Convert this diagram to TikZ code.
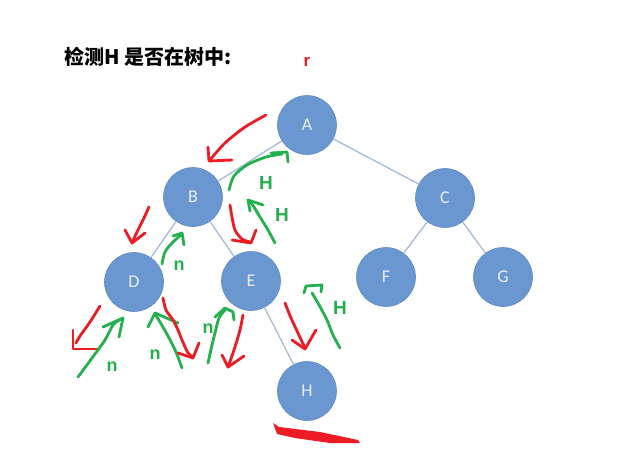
\documentclass[tikz,border=0pt]{standalone}
\usepackage{fontspec}
\setmainfont{Carlito}
\newfontfamily\cjk{Noto Sans CJK SC}
\newfontfamily\lblfont{Liberation Sans}
\definecolor{nodeblue}{HTML}{6A97CF}
\definecolor{nodeedge}{HTML}{5F8CC4}
\definecolor{nodetext}{HTML}{E8EFF8}
\definecolor{edgecol}{HTML}{A5BBD8}
\definecolor{penred}{HTML}{ED1C24}
\definecolor{pengreen}{HTML}{22B14C}
\tikzset{
  tnode/.style={circle, minimum size=59pt, inner sep=0pt, fill=nodeblue, draw=nodeedge, line width=0.6pt,
    text=nodetext, font=\fontsize{18}{18}\selectfont},
  tedge/.style={draw=edgecol, line width=1.3pt},
  redp/.style={draw=penred, line width=2.8pt, line cap=round, line join=round},
  greenp/.style={draw=pengreen, line width=2.8pt, line cap=round, line join=round},
  glabel/.style={text=pengreen, font=\lblfont\bfseries\fontsize{19}{19}\selectfont, inner sep=0pt},
  nlabel/.style={text=pengreen, font=\lblfont\bfseries\fontsize{18}{18}\selectfont, inner sep=0pt},
}
\begin{document}
\begin{tikzpicture}[x=1pt,y=-1pt]
\useasboundingbox[fill=white] (0,0) rectangle (627,466);
% title
\node[anchor=west, inner sep=0pt, font=\cjk\bfseries\fontsize{20}{20}\selectfont] (title) at (64,57) {检测H 是否在树中:};
\node[text=penred, font=\lblfont\bfseries\fontsize{17}{17}\selectfont, inner sep=0pt] (r) at (307,62) {r};
% tree
\node[tnode] (A) at (307,125) {A};
\node[tnode] (B) at (193,197) {B};
\node[tnode] (C) at (445,198) {C};
\node[tnode] (D) at (134,282) {D};
\node[tnode] (E) at (251,281) {E};
\node[tnode] (F) at (386,277) {F};
\node[tnode] (G) at (503,277) {G};
\node[tnode] (H) at (307,391) {H};
\draw[tedge] (A) -- (B);
\draw[tedge] (A) -- (C);
\draw[tedge] (B) -- (D);
\draw[tedge] (B) -- (E);
\draw[tedge] (C) -- (F);
\draw[tedge] (C) -- (G);
\draw[tedge] (E) -- (H);
% hand-drawn strokes
\draw[redp] plot[smooth] coordinates {(266,115) (245,127) (225,143) (210,160)};
\draw[redp] (208,147) -- (209,161) -- (232,160);
\draw[greenp] plot[smooth] coordinates {(229,190) (234,176) (247,165) (266,157) (282,154)};
\draw[greenp] (271,153) -- (287,152) -- (288,162);
\draw[redp] plot[smooth] coordinates {(230,205) (232,217) (235,230) (242,239) (250,242)};
\draw[redp] (232,240) -- (251,243) -- (256,230);
\draw[greenp] plot[smooth] coordinates {(275,243) (268,230) (260,217) (252,204) (248,200)};
\draw[greenp] (250,211) -- (248,200) -- (263,205);
\draw[redp] plot[smooth] coordinates {(149,207) (143,220) (137,232) (132,243)};
\draw[redp] (125,230) -- (132,243) -- (145,233);
\draw[greenp] plot[smooth] coordinates {(162,264) (165,252) (172,243) (182,234)};
\draw[greenp] (173,236) -- (182,233) -- (184,245);
\draw[redp] plot[smooth] coordinates {(100,306) (90,322) (80,336) (76,343)};
\draw[redp] (73,330) -- (73,349) -- (98,349);
\draw[greenp] plot[smooth] coordinates {(78,377) (92,358) (105,340) (113,325) (121,319)};
\draw[greenp] (103,327) -- (123,318) -- (119,337);
\draw[greenp] plot[smooth] coordinates {(182,368) (176,352) (168,336) (160,322) (155,314)};
\draw[greenp] (148,327) -- (155,313) -- (178,323);
\draw[redp] plot[smooth] coordinates {(163,298) (166,310) (173,320) (178,330) (182,340) (188,353) (193,357)};
\draw[redp] (178,353) -- (193,358) -- (199,343);
\draw[greenp] plot[smooth] coordinates {(208,363) (212,345) (215,333) (219,318) (225,310)};
\draw[greenp] (215,317) -- (225,308) -- (233,312) -- (234,320);
\draw[redp] plot[smooth] coordinates {(243,315) (240,330) (234,350) (228,367)};
\draw[redp] (222,355) -- (228,367) -- (244,356);
\draw[redp] plot[smooth] coordinates {(285,303) (291,318) (298,333) (305,348)};
\draw[redp] (292,340) -- (305,349) -- (316,330);
\draw[greenp] plot[smooth] coordinates {(340,348) (333,335) (327,320) (318,303) (312,293)};
\draw[greenp] (304,293) -- (306,286) -- (322,285) -- (321,292);
\fill[penred] (273,423) -- (279,427) -- (320,432) -- (358,440) -- (360,443) -- (330,443) -- (295,438) -- (277,434) -- cycle;
% labels
\node[glabel] (h1) at (266,183) {H};
\node[glabel] (h2) at (282,215) {H};
\node[glabel] (h3) at (340,308) {H};
\node[nlabel] (n1) at (179,266) {n};
\node[nlabel] (n2) at (208,329) {n};
\node[nlabel] (n3) at (155,355) {n};
\node[nlabel] (n4) at (112,367) {n};
\end{tikzpicture}
\end{document}
